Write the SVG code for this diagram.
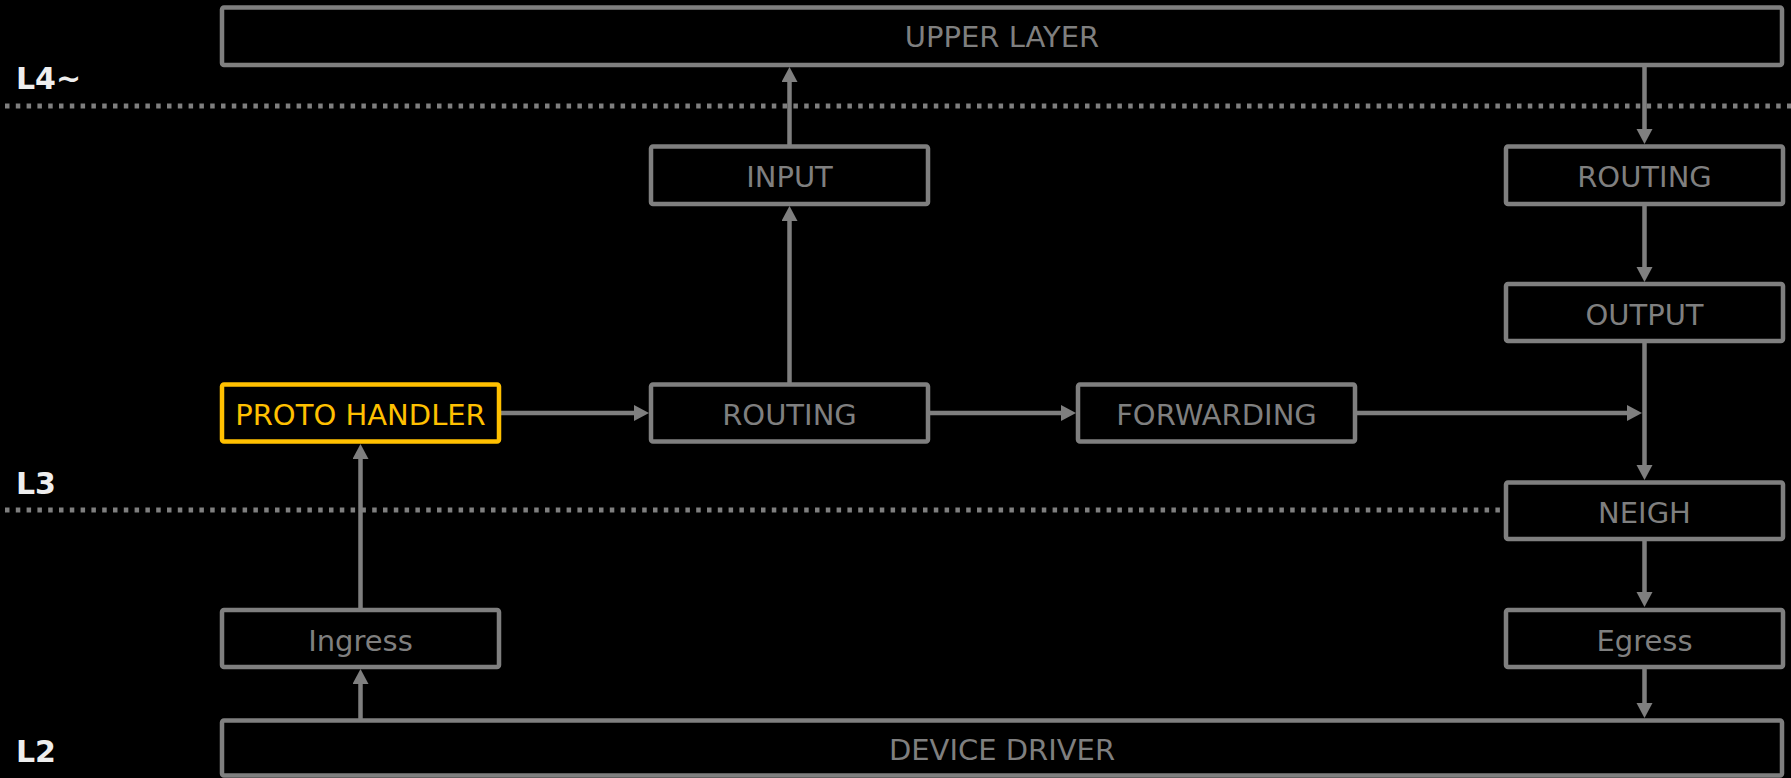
<svg xmlns="http://www.w3.org/2000/svg" width="1791" height="778" viewBox="0 0 1791 778">
<style>
.bg{fill:#000}
.box{fill:#000;stroke:#7f7f7f;stroke-width:4.5}
.hl{fill:#000;stroke:#ffc000;stroke-width:4.5}
.lbl{font-family:"DejaVu Sans",Verdana,sans-serif;font-size:29px;fill:#7f7f7f;text-anchor:middle}
.hlt{fill:#ffc000}
.lay{font-family:"DejaVu Sans",Verdana,sans-serif;font-size:30px;font-weight:bold;fill:#eeeeee}
.dot{stroke:#7f7f7f;stroke-width:5;stroke-dasharray:4.5 6.3;fill:none}
.con{stroke:#7f7f7f;stroke-width:4.5;fill:none;marker-end:url(#ah)}
</style>
<defs>
<marker id="ah" markerUnits="userSpaceOnUse" markerWidth="16" markerHeight="18" refX="6" refY="8" orient="auto">
<path d="M0,0 L15,8 L0,16 z" fill="#7f7f7f"/>
</marker>
</defs>
<rect class="bg" x="0" y="0" width="1791" height="778"/>
<g id="layers">
<line class="dot" x1="5" y1="106" x2="1791" y2="106"/>
<line class="dot" x1="5" y1="510" x2="1502" y2="510"/>
<text class="lay" x="16" y="89">L4~</text>
<text class="lay" x="16" y="494">L3</text>
<text class="lay" x="16" y="762">L2</text>
</g>
<g id="connectors">
<line class="con" x1="789.5" y1="384" x2="789.5" y2="215"/>
<line class="con" x1="789.5" y1="146" x2="789.5" y2="76"/>
<line class="con" x1="1644.5" y1="65" x2="1644.5" y2="135"/>
<line class="con" x1="1644.5" y1="204" x2="1644.5" y2="273"/>
<line class="con" x1="1644.5" y1="341" x2="1644.5" y2="471"/>
<line class="con" x1="1644.5" y1="539" x2="1644.5" y2="598"/>
<line class="con" x1="1644.5" y1="667" x2="1644.5" y2="709"/>
<line class="con" x1="360.5" y1="720" x2="360.5" y2="678"/>
<line class="con" x1="360.5" y1="610" x2="360.5" y2="453"/>
<line class="con" x1="499" y1="413" x2="640" y2="413"/>
<line class="con" x1="928" y1="413" x2="1067" y2="413"/>
<line class="con" x1="1355" y1="413" x2="1633" y2="413"/>
</g>
<g id="upper-layer">
<rect class="box" x="222" y="7.5" width="1560" height="57.5" rx="2"/>
<text class="lbl" x="1002" y="47">UPPER LAYER</text>
</g>
<g id="input">
<rect class="box" x="651" y="146.5" width="277" height="57.5" rx="2"/>
<text class="lbl" x="789.5" y="187">INPUT</text>
</g>
<g id="routing-out">
<rect class="box" x="1506" y="146.5" width="277" height="57.5" rx="2"/>
<text class="lbl" x="1644.5" y="187">ROUTING</text>
</g>
<g id="output">
<rect class="box" x="1506" y="284" width="277" height="57" rx="2"/>
<text class="lbl" x="1644.5" y="324.5">OUTPUT</text>
</g>
<g id="proto-handler">
<rect class="hl" x="222" y="384.5" width="277" height="57" rx="2"/>
<text class="lbl hlt" x="360.5" y="425">PROTO HANDLER</text>
</g>
<g id="routing-in">
<rect class="box" x="651" y="384.5" width="277" height="57" rx="2"/>
<text class="lbl" x="789.5" y="425">ROUTING</text>
</g>
<g id="forwarding">
<rect class="box" x="1078" y="384.5" width="277" height="57" rx="2"/>
<text class="lbl" x="1216.5" y="425">FORWARDING</text>
</g>
<g id="neigh">
<rect class="box" x="1506" y="482.5" width="277" height="56.5" rx="2"/>
<text class="lbl" x="1644.5" y="523">NEIGH</text>
</g>
<g id="ingress">
<rect class="box" x="222" y="610" width="277" height="57" rx="2"/>
<text class="lbl" x="360.5" y="650.5">Ingress</text>
</g>
<g id="egress">
<rect class="box" x="1506" y="610" width="277" height="57" rx="2"/>
<text class="lbl" x="1644.5" y="650.5">Egress</text>
</g>
<g id="device-driver">
<rect class="box" x="222" y="720.5" width="1560" height="55" rx="2"/>
<text class="lbl" x="1002" y="760">DEVICE DRIVER</text>
</g>
</svg>
